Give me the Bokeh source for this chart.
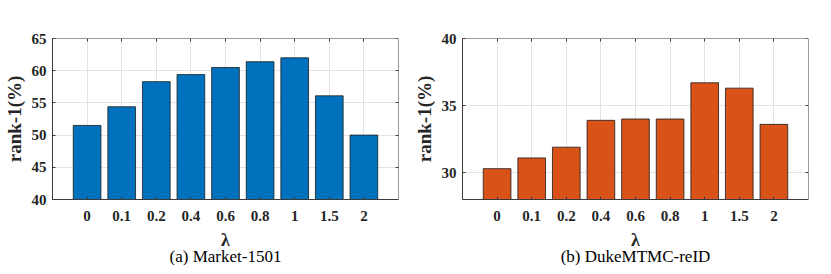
from bokeh.plotting import figure
from bokeh.layouts import row
from bokeh.models import FixedTicker, LinearAxis, Range1d, Title
from bokeh.embed import file_html
from bokeh.resources import INLINE

lambdas = ["0", "0.1", "0.2", "0.4", "0.6", "0.8", "1", "1.5", "2"]
market = [51.5, 54.4, 58.3, 59.4, 60.5, 61.4, 62.0, 56.1, 50.0]
duke = [30.3, 31.1, 31.9, 33.9, 34.0, 34.0, 36.7, 36.3, 33.6]

market_yticks = [40, 45, 50, 55, 60, 65]
duke_yticks = [30, 35, 40]

FONT = "Liberation Serif"
AX = "#3a3a3a"
FW, FH = 346, 161


def make_title(text):
    kw = dict(text=text, align="center", text_font=FONT, text_font_style="normal",
              text_font_size="17px", text_color="#000000")
    try:
        return Title(standoff=-15, **kw)
    except Exception:
        return Title(standoff=0, **kw)


def make(values, color, yr, yticks, caption, ml, mr):
    xs = list(range(1, len(lambdas) + 1))
    p = figure(frame_width=FW, frame_height=FH, output_backend="svg", toolbar_location=None,
               x_range=Range1d(0, len(lambdas) + 1), y_range=Range1d(*yr),
               min_border_left=ml, min_border_right=mr, min_border_top=38,
               min_border_bottom=66, x_axis_label="λ", y_axis_label="rank-1(%)")
    p.outline_line_color = None
    p.vbar(x=xs, top=values, bottom=yr[0], width=0.8, fill_color=color,
           line_color="#1a1a1a", line_width=0.8)
    xt = FixedTicker(ticks=xs, minor_ticks=[])
    yt = FixedTicker(ticks=yticks, minor_ticks=[])
    p.xaxis.ticker = xt
    p.yaxis.ticker = yt
    p.xaxis.major_label_overrides = {x: l for x, l in zip(xs, lambdas)}
    for ax in (p.xaxis[0], p.yaxis[0]):
        ax.axis_line_color = AX
        ax.major_tick_line_color = AX
        ax.major_tick_in = 3
        ax.major_tick_out = 0
        ax.minor_tick_line_color = None
        ax.major_label_text_font = FONT
        ax.major_label_text_font_style = "bold"
        ax.major_label_text_font_size = "15px"
        ax.major_label_text_color = "#262626"
        ax.axis_label_text_font = FONT
        ax.axis_label_text_font_style = "bold"
        ax.axis_label_text_color = "#262626"
    p.xaxis.major_label_standoff = 11
    p.xaxis.axis_label_standoff = 6
    p.xaxis.axis_label_text_font_size = "18px"
    p.yaxis.major_label_standoff = 6
    p.yaxis.axis_label_standoff = 4
    p.yaxis.axis_label_text_font_size = "19px"
    # box axes (ticks only), pinned to the frame edges so they take no space
    for loc, tk, fl in (("above", xt, yr[1]), ("right", yt, len(lambdas) + 1)):
        ax = LinearAxis(ticker=tk, major_label_text_color=None, fixed_location=fl,
                        major_label_text_font_size="0px", axis_line_color=AX,
                        major_tick_line_color=AX, major_tick_in=3, major_tick_out=0,
                        minor_tick_line_color=None, major_label_standoff=0)
        p.add_layout(ax, loc)
    p.xgrid.ticker = xt
    p.ygrid.ticker = yt
    p.grid.grid_line_color = "#e3e3e3"
    p.grid.grid_line_width = 1
    p.add_layout(make_title(caption), "below")
    return p


p1 = make(market, "#0072BD", (40, 65), market_yticks, "(a) Market-1501", 52, 12)
p2 = make(duke, "#D95319", (28, 40), duke_yticks, "(b) DukeMTMC-reID", 52, 14)
p = row(p1, p2)
open("out.html", "w").write(file_html(p, INLINE))
